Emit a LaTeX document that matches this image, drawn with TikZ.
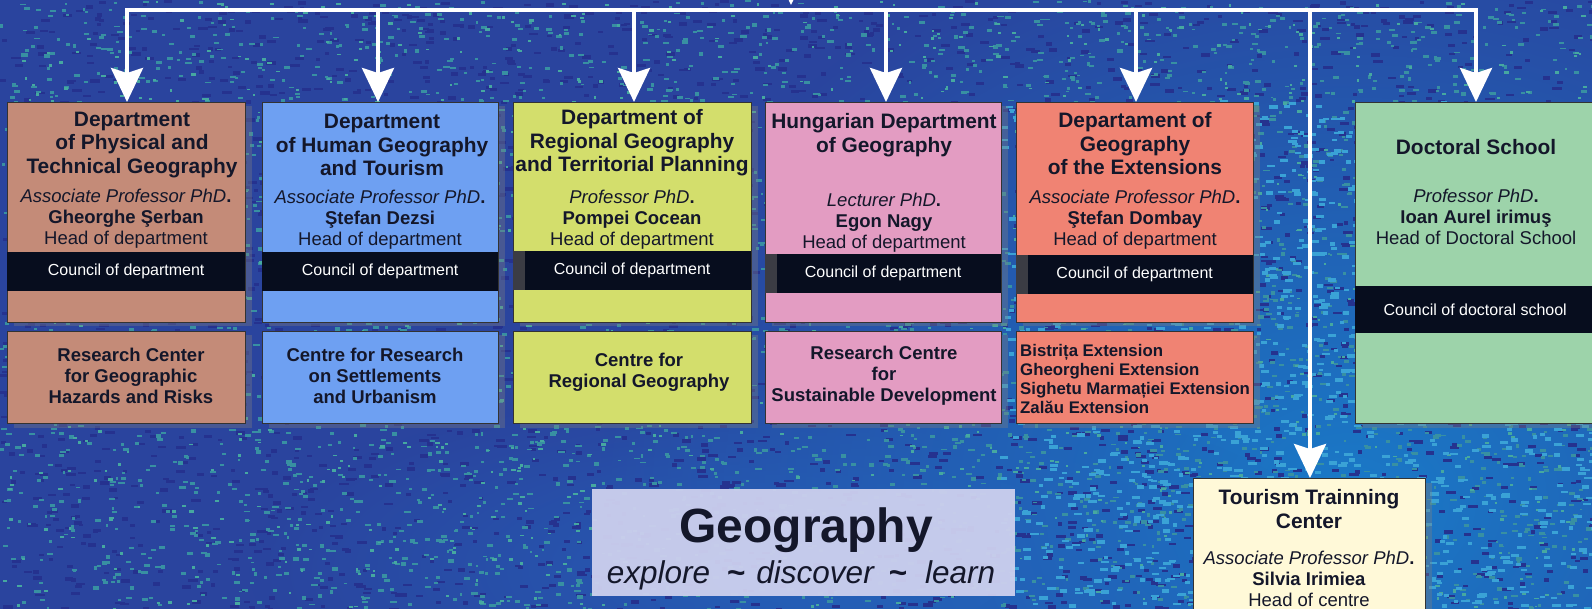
\documentclass[tikz,border=0pt]{standalone}
\usepackage{fontspec}
\setmainfont{Liberation Sans}
\usetikzlibrary{arrows.meta,shadows,fadings}

\definecolor{txt}{HTML}{14172A}
\definecolor{cBrown}{HTML}{C48B78}
\definecolor{cBlue}{HTML}{6EA0F2}
\definecolor{cYel}{HTML}{D3DE6C}
\definecolor{cPink}{HTML}{E39CC2}
\definecolor{cSal}{HTML}{F08373}
\definecolor{cGreen}{HTML}{9DD3AA}
\definecolor{cCream}{HTML}{FFF9D8}
\definecolor{cLav}{HTML}{CDD0EE}
\definecolor{bandc}{HTML}{070D1E}
\definecolor{bandgray}{HTML}{3B3C44}
\definecolor{bgBase}{HTML}{2A449E}
\definecolor{bgBright}{HTML}{1A7AC8}
\definecolor{bgMid}{HTML}{2464BC}
\definecolor{spkTeal}{HTML}{3890A2}
\definecolor{spkGreen}{HTML}{46A8A0}
\definecolor{spkDark}{HTML}{25328F}
\definecolor{spkCyan}{HTML}{3AA2D6}

\tikzfading[name=fadecirc, inner color=transparent!0, outer color=transparent!100]

\begin{document}
\begin{tikzpicture}[x=1pt,y=-1pt,
  box/.style={draw=black!80, line width=1pt, anchor=north west, inner sep=0pt,
    drop shadow={opacity=0.35, shadow xshift=6pt, shadow yshift=-4pt}},
  bandbox/.style={fill=bandc, anchor=north west, inner sep=0pt, text=white,
    font=\fontsize{16}{19}\selectfont},
  ttl/.style={font=\fontsize{20.9}{23.5}\selectfont\bfseries, text=txt, align=center, inner sep=0pt},
  inf/.style={font=\fontsize{18.5}{21}\selectfont, text=txt, align=center, inner sep=0pt},
  low/.style={font=\fontsize{18.5}{21}\selectfont\bfseries, text=txt, align=center, inner sep=0pt},
  conn/.style={white, line width=4pt},
  arr/.style={conn, -{Stealth[length=34pt,width=32pt,inset=5pt]}}
]
\useasboundingbox (0,0) rectangle (1592,609);
\clip (0,0) rectangle (1592,609);

% background
\fill[bgBase] (0,0) rectangle (1592,609);
\fill[bgBright, path fading=fadecirc] (600,-100) rectangle (2100,1100);
\fill[bgMid, path fading=fadecirc, opacity=0.8] (250,380) rectangle (1350,760);
\pgfmathsetseed{7}
\begin{scope}[fill=spkDark]
\foreach \i in {1,...,3000}{\fill (rnd*1592, rnd*609) rectangle ++(4+rnd*6, 2+rnd*2);}
\end{scope}
\begin{scope}[fill=spkTeal]
\foreach \i in {1,...,4000}{\fill (rnd*1592, rnd*609) rectangle ++(2.5+rnd*4, 1.5+rnd*2);}
\end{scope}
\begin{scope}[fill=spkGreen]
\foreach \i in {1,...,1200}{\fill (rnd*1592, rnd*609) rectangle ++(2+rnd*3, 1.5+rnd*1.5);}
\end{scope}
\begin{scope}[fill=spkCyan]
\foreach \i in {1,...,1500}{\fill (1000+rnd*592, 100+rnd*509) rectangle ++(4+rnd*5, 2+rnd*2);}
\end{scope}

% upper boxes
\node[box, fill=cBrown, minimum width=238pt, minimum height=220pt] (b1) at (7,102) {};
\node[box, fill=cBlue,  minimum width=236pt, minimum height=220pt] (b2) at (262,102) {};
\node[box, fill=cYel,   minimum width=238pt, minimum height=220pt] (b3) at (513,102) {};
\node[box, fill=cPink,  minimum width=236pt, minimum height=220pt] (b4) at (765,102) {};
\node[box, fill=cSal,   minimum width=237pt, minimum height=220pt] (b5) at (1016,102) {};
\node[box, fill=cGreen, minimum width=240pt, minimum height=321pt] (b6) at (1355,102) {};

% lower boxes
\node[box, fill=cBrown, minimum width=238pt, minimum height=92pt] (l1) at (7,331) {};
\node[box, fill=cBlue,  minimum width=236pt, minimum height=92pt] (l2) at (262,331) {};
\node[box, fill=cYel,   minimum width=238pt, minimum height=92pt] (l3) at (513,331) {};
\node[box, fill=cPink,  minimum width=236pt, minimum height=92pt] (l4) at (765,331) {};
\node[box, fill=cSal,   minimum width=237pt, minimum height=92pt] (l5) at (1016,331) {};

% tourism and geography
\node[box, fill=cCream, minimum width=232pt, minimum height=150pt] (tour) at (1193,478) {};
\node[anchor=north west, fill=cLav, fill opacity=0.95, inner sep=0pt,
  minimum width=423pt, minimum height=107pt] (geo) at (592,489) {};

% council bands
\node[bandbox, minimum width=238pt, minimum height=39pt] (c1) at (7,252) {Council of department};
\node[bandbox, minimum width=236pt, minimum height=39pt] (c2) at (262,252) {Council of department};
\node[bandbox, minimum width=238pt, minimum height=39pt] (c3) at (513,251) {Council of department};
\node[bandbox, minimum width=236pt, minimum height=39pt] (c4) at (765,254) {Council of department};
\node[bandbox, minimum width=237pt, minimum height=39pt] (c5) at (1016,255) {Council of department};
\node[bandbox, minimum width=240pt, minimum height=47pt] (c6) at (1355,286) {Council of doctoral school};
\fill[bandgray] (c3.north west) rectangle ([xshift=12pt]c3.south west);
\fill[bandgray] (c4.north west) rectangle ([xshift=12pt]c4.south west);
\fill[bandgray] (c5.north west) rectangle ([xshift=12pt]c5.south west);

% titles
\node[ttl] (t1) at (132,145) {Department\\of Physical and\\Technical Geography};
\node[ttl] (t2) at (382,145) {Department\\of Human Geography\\and Tourism};
\node[ttl] (t3) at (632,143) {Department of\\Regional Geography\\and Territorial Planning};
\node[ttl] (t4) at (884,135) {Hungarian Department\\of Geography};
\node[ttl] (t5) at (1135,144) {Departament of\\Geography\\of the Extensions};
\node[ttl] (t6) at (1476,147) {Doctoral School};
\node[ttl] (t7) at (1309,509) {Tourism Trainning\\Center};

% info
\node[inf] (i1) at (126,219) {\textit{Associate Professor PhD}\textbf{.}\\\textbf{Gheorghe Şerban}\\Head of department};
\node[inf] (i2) at (380,220) {\textit{Associate Professor PhD}\textbf{.}\\\textbf{Ştefan Dezsi}\\Head of department};
\node[inf] (i3) at (632,220) {\textit{Professor PhD}\textbf{.}\\\textbf{Pompei Cocean}\\Head of department};
\node[inf] (i4) at (884,223) {\textit{Lecturer PhD}\textbf{.}\\\textbf{Egon Nagy}\\Head of department};
\node[inf] (i5) at (1135,220) {\textit{Associate Professor PhD}\textbf{.}\\\textbf{Ştefan Dombay}\\Head of department};
\node[inf] (i6) at (1476,217) {\textit{Professor PhD}\textbf{.}\\\textbf{Ioan Aurel irimuş}\\Head of Doctoral School};
\node[inf] (i7) at (1309,579) {\textit{Associate Professor PhD}\textbf{.}\\\textbf{Silvia Irimiea}\\Head of centre};

% lower texts
\node[low] (r1) at (131,376) {Research Center\\for Geographic\\Hazards and Risks};
\node[low] (r2) at (375,376) {Centre for Research\\on Settlements\\and Urbanism};
\node[low] (r3) at (639,372) {Centre for\\Regional Geography};
\node[low] (r4) at (884,376) {Research Centre\\for\\Sustainable Development};
\node[low, font=\fontsize{16.8}{18.7}\selectfont\bfseries, align=left, anchor=west] (r5) at (1020,379)
  {Bistrița Extension\\Gheorgheni Extension\\Sighetu Marmației Extension\\Zalău Extension};

% geography label
\node[inner sep=0pt, text=txt, font=\fontsize{48}{50}\selectfont\bfseries] (g1) at (806,530) {Geography};
\node[inner sep=0pt, text=txt, font=\fontsize{31.5}{33}\selectfont\itshape] (g2) at (801,575)
  {explore\hspace{17pt}\textup{\textbf{\char`\~}}\hspace{11pt}discover\hspace{14pt}\textup{\textbf{\char`\~}}\hspace{18pt}learn};

% connectors
\coordinate (in) at (791,-40);
\coordinate (inend) at (791,5);
\coordinate (h1) at (127,10.5);
\coordinate (h2) at (378,10.5);
\coordinate (h3) at (634,10.5);
\coordinate (h4) at (886,10.5);
\coordinate (h5) at (1136,10.5);
\coordinate (ht) at (1310,10.5);
\coordinate (h6) at (1476,10.5);
\draw[arr] (in) -- (inend);
\draw[conn, line cap=rect] (h1) -- (h6);
\draw[arr] (h1) -- (h1 |- b1.north);
\draw[arr] (h2) -- (h2 |- b2.north);
\draw[arr] (h3) -- (h3 |- b3.north);
\draw[arr] (h4) -- (h4 |- b4.north);
\draw[arr] (h5) -- (h5 |- b5.north);
\draw[arr] (h6) -- (h6 |- b6.north);
\draw[arr] (ht) -- (ht |- tour.north);
\end{tikzpicture}
\end{document}
